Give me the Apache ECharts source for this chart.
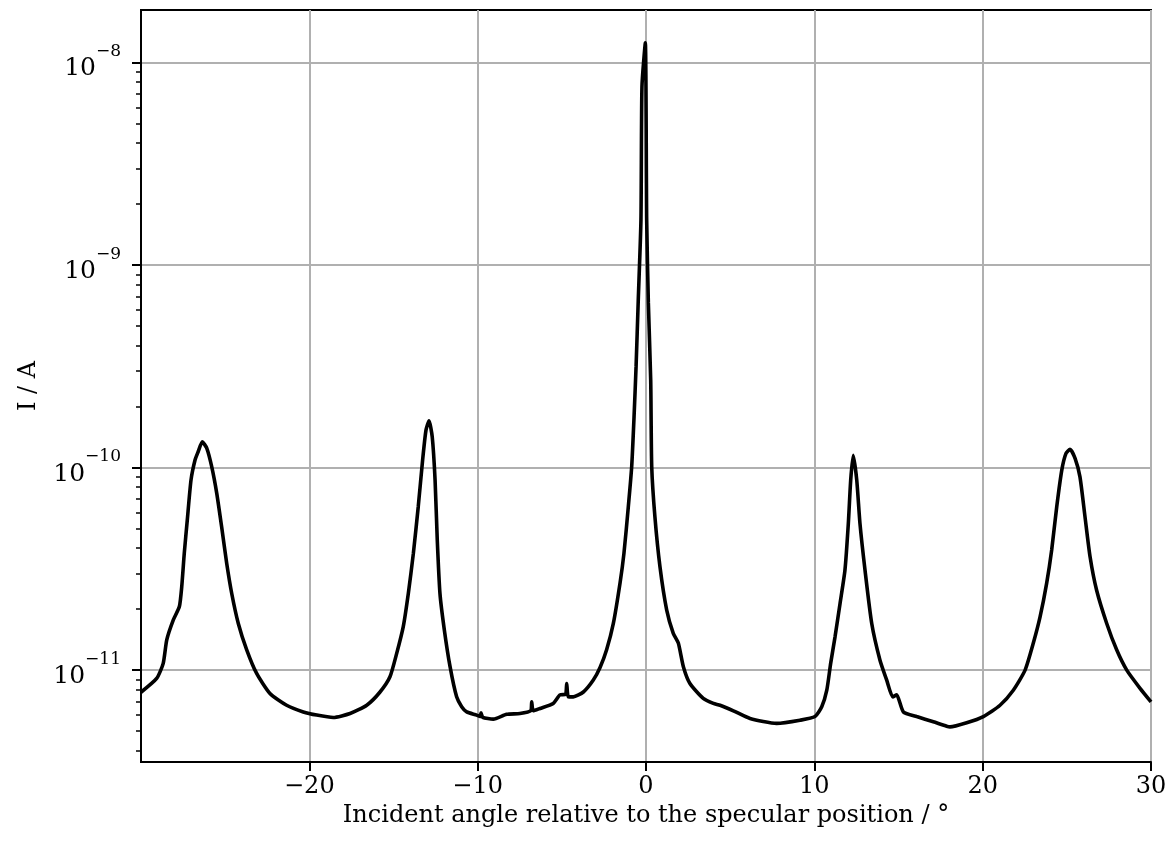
<!DOCTYPE html>
<html><head><meta charset="utf-8">
<script src="https://cdn.jsdelivr.net/npm/echarts@6/dist/echarts.min.js"></script>
<style>html,body{margin:0;padding:0;background:#fff}#c{width:1175px;height:852px}</style>
</head><body><div id="c"></div>
<script>
// Incident angle (degrees)
const angle = [
  -30.0, -29.07, -28.68, -28.47, -28.08, -27.72, -27.58, -27.43, -27.25, -27.03,
  -26.79, -26.60, -26.36, -26.10, -25.80, -25.50, -25.21, -24.91, -24.61, -24.22,
  -23.72, -23.13, -22.34, -21.35, -20.36, -19.56, -18.58, -17.58, -16.59, -15.80,
  -15.21, -14.81, -14.42, -14.12, -13.82, -13.53, -13.27, -13.07, -12.89, -12.70,
  -12.53, -12.40, -12.24, -11.98, -11.64, -11.25, -10.95, -10.65, -10.06, -9.86,
  -9.80, -9.70, -9.07, -8.28, -7.49, -6.85, -6.79, -6.70, -6.30, -5.51,
  -5.11, -4.78, -4.71, -4.62, -4.32, -3.72, -3.13, -2.73, -2.34, -1.94,
  -1.54, -1.31, -1.05, -0.85, -0.71, -0.59, -0.46, -0.30, -0.24, -0.04,
  0.04, 0.14, 0.28, 0.34, 0.53, 0.83, 1.23, 1.62, 1.92, 2.22,
  2.61, 3.40, 4.00, 4.40, 5.19, 6.18, 7.76, 9.15, 10.04, 10.44,
  10.74, 10.97, 11.23, 11.53, 11.82, 12.02, 12.16, 12.31, 12.52, 12.71,
  13.01, 13.41, 13.90, 14.30, 14.66, 14.89, 15.29, 16.08, 17.07, 17.86,
  18.06, 19.05, 20.04, 21.03, 21.82, 22.52, 23.01, 23.41, 23.80, 24.10,
  24.40, 24.70, 24.95, 25.19, 25.49, 25.78, 26.08, 26.38, 26.77, 27.37,
  27.96, 28.56, 29.35, 30.0
];
// Current I (A)
const current = [
  7.78e-12, 9.10e-12, 1.08e-11, 1.41e-11, 1.77e-11, 2.06e-11, 2.58e-11, 3.77e-11, 5.51e-11, 8.67e-11,
  1.09e-10, 1.20e-10, 1.34e-10, 1.25e-10, 1.01e-10, 7.46e-11, 5.10e-11, 3.37e-11, 2.39e-11, 1.70e-11,
  1.26e-11, 9.63e-12, 7.67e-12, 6.71e-12, 6.22e-12, 6.00e-12, 5.84e-12, 6.11e-12, 6.71e-12, 7.80e-12,
  9.27e-12, 1.21e-11, 1.64e-11, 2.39e-11, 3.77e-11, 6.41e-11, 1.09e-10, 1.53e-10, 1.70e-10, 1.42e-10,
  8.67e-11, 4.39e-11, 2.39e-11, 1.58e-11, 1.04e-11, 7.38e-12, 6.60e-12, 6.22e-12, 6.00e-12, 5.90e-12,
  6.15e-12, 5.85e-12, 5.73e-12, 6.05e-12, 6.11e-12, 6.30e-12, 6.97e-12, 6.30e-12, 6.47e-12, 6.85e-12,
  7.55e-12, 7.60e-12, 8.59e-12, 7.40e-12, 7.38e-12, 7.80e-12, 8.93e-12, 1.03e-11, 1.26e-11, 1.70e-11,
  2.70e-11, 3.77e-11, 6.41e-11, 1.01e-10, 1.78e-10, 3.15e-10, 6.70e-10, 1.67e-9, 7.60e-9, 1.25e-8,
  1.67e-9, 6.50e-10, 2.70e-10, 1.01e-10, 5.71e-11, 3.24e-11, 1.98e-11, 1.52e-11, 1.36e-11, 1.04e-11,
  8.59e-12, 7.25e-12, 6.85e-12, 6.71e-12, 6.30e-12, 5.77e-12, 5.46e-12, 5.66e-12, 5.90e-12, 6.59e-12,
  7.96e-12, 1.08e-11, 1.46e-11, 2.14e-11, 3.12e-11, 5.30e-11, 8.67e-11, 1.15e-10, 8.67e-11, 5.30e-11,
  3.12e-11, 1.70e-11, 1.12e-11, 8.93e-12, 7.38e-12, 7.55e-12, 6.22e-12, 5.90e-12, 5.56e-12, 5.29e-12,
  5.25e-12, 5.50e-12, 5.90e-12, 6.71e-12, 7.96e-12, 1.00e-11, 1.36e-11, 1.83e-11, 2.68e-11, 3.92e-11,
  6.41e-11, 9.72e-11, 1.175e-10, 1.23e-10, 1.11e-10, 9.00e-11, 5.71e-11, 3.63e-11, 2.48e-11, 1.70e-11,
  1.26e-11, 1.00e-11, 8.13e-12, 6.97e-12
];
const xTicks = [-20, -10, 0, 10, 20, 30];
const yMajorTicks = [1e-11, 1e-10, 1e-9, 1e-8];
const yMinorTicks = [
  4e-12, 5e-12, 6e-12, 7e-12, 8e-12, 9e-12,
  2e-11, 3e-11, 4e-11, 5e-11, 6e-11, 7e-11, 8e-11, 9e-11,
  2e-10, 3e-10, 4e-10, 5e-10, 6e-10, 7e-10, 8e-10, 9e-10,
  2e-9, 3e-9, 4e-9, 5e-9, 6e-9, 7e-9, 8e-9, 9e-9
];
const xTitle = 'Incident angle relative to the specular position / °';
const yTitle = 'I / A';

const FONT = '"DejaVu Serif", "Liberation Serif", serif';
const chart = echarts.init(document.getElementById('c'), null, {renderer: 'canvas'});
const yMin = 3.52e-12, yMax = 1.815e-8;

function supLabel(v) {
  const e = Math.round(Math.log10(v));
  return '{b|10}{s|' + (e < 0 ? '\u2212' + Math.abs(e) : e) + '}';
}

chart.setOption({
  animation: false,
  backgroundColor: '#fff',
  grid: {left: 141, right: 24, top: 10, bottom: 90, show: true, borderColor: '#000', borderWidth: 2, backgroundColor: '#fff'},
  xAxis: {
    type: 'value', min: -30, max: 30, interval: 10,
    name: xTitle, nameLocation: 'middle', nameGap: 34,
    nameTextStyle: {fontFamily: FONT, fontSize: 24, color: '#000'},
    axisLine: {show: true, onZero: false, lineStyle: {color: '#000', width: 2}},
    axisTick: {show: true, length: 9, lineStyle: {color: '#000', width: 2}, customValues: xTicks},
    axisLabel: {fontFamily: FONT, fontSize: 24, color: '#000', margin: 13, customValues: xTicks,
      formatter: v => v < 0 ? '\u2212' + Math.abs(v) : String(v)},
    splitLine: {show: true, lineStyle: {color: '#b0b0b0', width: 2}}
  },
  yAxis: [{
    type: 'log', logBase: 10, min: yMin, max: yMax,
    name: yTitle, nameLocation: 'middle', nameGap: 100,
    nameTextStyle: {fontFamily: FONT, fontSize: 24, color: '#000'},
    axisLine: {show: true, onZero: false, lineStyle: {color: '#000', width: 2}},
    axisTick: {show: true, length: 9, lineStyle: {color: '#000', width: 2}, customValues: yMajorTicks},
    axisLabel: {margin: 20, customValues: yMajorTicks, formatter: supLabel,
      rich: {
        b: {fontFamily: FONT, fontSize: 25, color: '#000', lineHeight: 38, verticalAlign: 'bottom'},
        s: {fontFamily: FONT, fontSize: 17, color: '#000', lineHeight: 17, verticalAlign: 'top'}
      }},
    splitLine: {show: true, lineStyle: {color: '#b0b0b0', width: 2}}
  }, {
    type: 'log', logBase: 10, min: yMin, max: yMax, position: 'left',
    axisLine: {show: false, onZero: false},
    axisTick: {show: true, length: 5, lineStyle: {color: '#000', width: 1.5}, customValues: yMinorTicks},
    axisLabel: {show: false},
    splitLine: {show: false}
  }],
  series: [{
    type: 'line', yAxisIndex: 0, showSymbol: false, smooth: 0.2,
    data: angle.map((a, i) => [a, current[i]]),
    lineStyle: {color: '#000', width: 3.6}, itemStyle: {color: '#000'}
  }]
});
</script></body></html>
